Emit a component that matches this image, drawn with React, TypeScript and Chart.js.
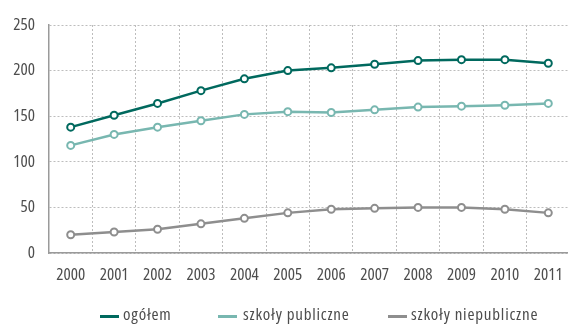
import React, { useEffect, useRef } from "react";
import { Chart, registerables } from "chart.js";

Chart.register(...registerables);

const years = ["2000", "2001", "2002", "2003", "2004", "2005", "2006", "2007", "2008", "2009", "2010", "2011"];
const ogolem = [138, 151, 164, 178, 191, 200, 203, 207, 211, 212, 212, 208];
const publiczne = [118, 130, 138, 145, 152, 155, 154, 157, 160, 161, 162, 164];
const niepubliczne = [20, 23, 26, 32, 38, 44, 48, 49, 50, 50, 48, 44];
const yTicks = [0, 50, 100, 150, 200, 250];
const seriesNames = ["ogółem", "szkoły publiczne", "szkoły niepubliczne"];
const seriesColors = ["#00695e", "#78b7b0", "#8e8e8e"];

const FONT = "'Open Sans', 'DejaVu Sans Condensed', sans-serif";
const TEXT = "#4d4d4d";

const legendPos = [
  { line: 100, text: 123 },
  { line: 218, text: 243 },
  { line: 388, text: 411 },
];

export default function App() {
  const ref = useRef<HTMLCanvasElement | null>(null);
  useEffect(() => {
    if (!ref.current) return;
    const mk = (label: string, data: number[], color: string) => ({
      label,
      data,
      borderColor: color,
      backgroundColor: color,
      borderWidth: 2.5,
      pointRadius: 3.5,
      pointBorderWidth: 2,
      pointBackgroundColor: "#ffffff",
      pointBorderColor: color,
      tension: 0,
    });
    const chart = new Chart(ref.current, {
      type: "line",
      data: {
        labels: years,
        datasets: [
          mk(seriesNames[0], ogolem, seriesColors[0]),
          mk(seriesNames[1], publiczne, seriesColors[1]),
          mk(seriesNames[2], niepubliczne, seriesColors[2]),
        ],
      },
      options: {
        responsive: false,
        animation: false,
        layout: { padding: { left: 0, right: 3, top: 25, bottom: 32 } },
        plugins: {
          tooltip: { enabled: false },
          legend: { display: false },
        },
        scales: {
          x: {
            type: "category",
            offset: true,
            afterFit: (s: any) => {
              s.height = 40;
            },
            grid: { offset: true, color: "#bdbdbd", lineWidth: 1, drawTicks: false },
            border: { display: true, color: "#9a9a9a", width: 1.5, dash: [2, 2] },
            ticks: {
              color: TEXT,
              font: { family: FONT, size: 17, weight: "condensed" as any },
              padding: 12,
              maxRotation: 0,
              autoSkip: false,
            },
          },
          y: {
            min: 0,
            max: 250,
            afterFit: (s: any) => {
              s.width = 49;
            },
            afterBuildTicks: (s: any) => {
              s.ticks = yTicks.map((v) => ({ value: v }));
            },
            grid: { color: "#bdbdbd", lineWidth: 1, drawTicks: false },
            border: { display: true, color: "#9a9a9a", width: 1.5, dash: [2, 2] },
            ticks: { color: TEXT, font: { family: FONT, size: 17, weight: "condensed" as any }, padding: 14 },
          },
        },
      },
    });
    return () => chart.destroy();
  }, []);
  return (
    <div style={{ position: "fixed", left: 0, top: 0, width: 568, height: 325, overflow: "hidden", background: "#fff" }}>
      <canvas ref={ref} width={576} height={325} style={{ display: "block", width: 576, height: 325 }} />
      {seriesNames.map((name, i) => (
        <React.Fragment key={name}>
          <div
            style={{
              position: "absolute",
              left: legendPos[i].line,
              top: 315,
              width: 19,
              height: 3,
              background: seriesColors[i],
            }}
          />
          <div
            style={{
              position: "absolute",
              left: legendPos[i].text,
              top: 304,
              lineHeight: "20px",
              fontFamily: FONT,
              fontStretch: "condensed",
              fontSize: 17,
              letterSpacing: "0.8px",
              color: TEXT,
              whiteSpace: "nowrap",
            }}
          >
            {name}
          </div>
        </React.Fragment>
      ))}
    </div>
  );
}
